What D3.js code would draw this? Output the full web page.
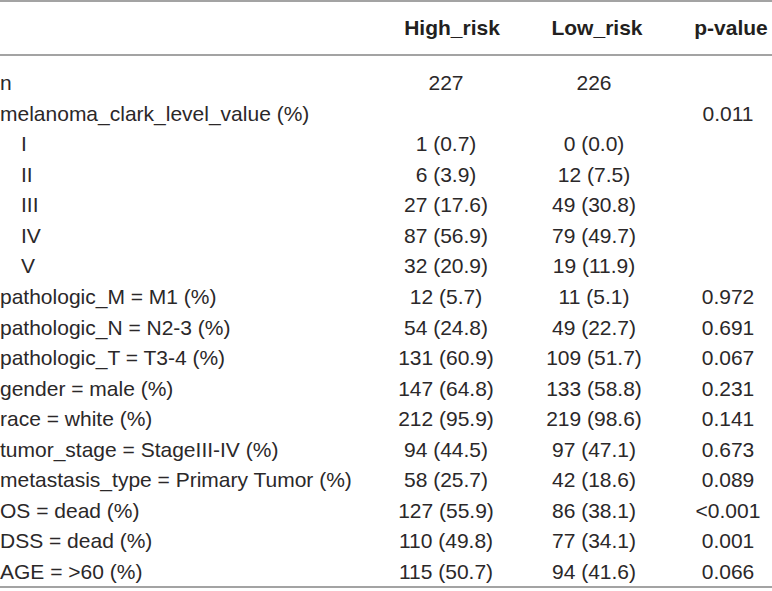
<!DOCTYPE html>
<html>
<head>
<meta charset="utf-8">
<script src="https://cdn.jsdelivr.net/npm/d3@7"></script>
<style>
  html, body { margin: 0; padding: 0; background: #fff; }
  svg { display: block; }
</style>
</head>
<body>
<div id="table"></div>
<script>
// table content
const columns   = ["High_risk", "Low_risk", "p-value"];
const rowLabels = [
  "n",
  "melanoma_clark_level_value (%)",
  "I", "II", "III", "IV", "V",
  "pathologic_M = M1 (%)",
  "pathologic_N = N2-3 (%)",
  "pathologic_T = T3-4 (%)",
  "gender = male (%)",
  "race = white (%)",
  "tumor_stage = StageIII-IV (%)",
  "metastasis_type = Primary Tumor (%)",
  "OS = dead (%)",
  "DSS = dead (%)",
  "AGE = >60 (%)"
];
const indented  = [false, false, true, true, true, true, true,
                   false, false, false, false, false, false, false, false, false, false];
const highRisk  = ["227", "", "1 (0.7)", "6 (3.9)", "27 (17.6)", "87 (56.9)", "32 (20.9)",
                   "12 (5.7)", "54 (24.8)", "131 (60.9)", "147 (64.8)", "212 (95.9)",
                   "94 (44.5)", "58 (25.7)", "127 (55.9)", "110 (49.8)", "115 (50.7)"];
const lowRisk   = ["226", "", "0 (0.0)", "12 (7.5)", "49 (30.8)", "79 (49.7)", "19 (11.9)",
                   "11 (5.1)", "49 (22.7)", "109 (51.7)", "133 (58.8)", "219 (98.6)",
                   "97 (47.1)", "42 (18.6)", "86 (38.1)", "77 (34.1)", "94 (41.6)"];
const pValues   = ["", "0.011", "", "", "", "", "",
                   "0.972", "0.691", "0.067", "0.231", "0.141",
                   "0.673", "0.089", "<0.001", "0.001", "0.066"];

const width = 772, height = 591;
const font = "'Liberation Sans', Arial, Helvetica, sans-serif";

const rows = rowLabels.map((label, i) => ({
  label,
  indent: indented[i],
  values: [highRisk[i], lowRisk[i], pValues[i]]
}));

const svg = d3.select("#table").append("svg")
    .attr("width", width)
    .attr("height", height)
    .attr("font-family", font);

const y = d3.scalePoint()
    .domain(d3.range(rows.length))
    .range([82, 571]);

const headX = d3.scaleOrdinal().domain(columns).range([452, 597, 731]);
const cellX = d3.scaleOrdinal().domain(columns).range([446, 594, 728]);

// rules
svg.selectAll("line.rule")
  .data([1, 55, 587])
  .join("line")
    .attr("class", "rule")
    .attr("x1", 0).attr("x2", width)
    .attr("y1", d => d).attr("y2", d => d)
    .attr("stroke", "#a3a3a3")
    .attr("stroke-width", 2);

// header
svg.selectAll("text.head")
  .data(columns)
  .join("text")
    .attr("class", "head")
    .attr("x", d => headX(d))
    .attr("y", 35)
    .attr("text-anchor", "middle")
    .attr("font-weight", "bold")
    .attr("font-size", 21)
    .attr("fill", "#231f20")
    .text(d => d);

const row = svg.selectAll("g.row")
  .data(rows)
  .join("g")
    .attr("class", "row")
    .attr("transform", (d, i) => `translate(0,${y(i) + 8})`);

row.append("text")
    .attr("x", d => d.indent ? 21 : 0)
    .attr("font-size", 21)
    .attr("fill", "#2b2829")
    .text(d => d.label);

row.selectAll("text.cell")
  .data(d => d.values.map((v, j) => ({ col: columns[j], v })))
  .join("text")
    .attr("class", "cell")
    .attr("x", d => cellX(d.col))
    .attr("text-anchor", "middle")
    .attr("font-size", 21)
    .attr("fill", "#2b2829")
    .text(d => d.v);
</script>
</body>
</html>
